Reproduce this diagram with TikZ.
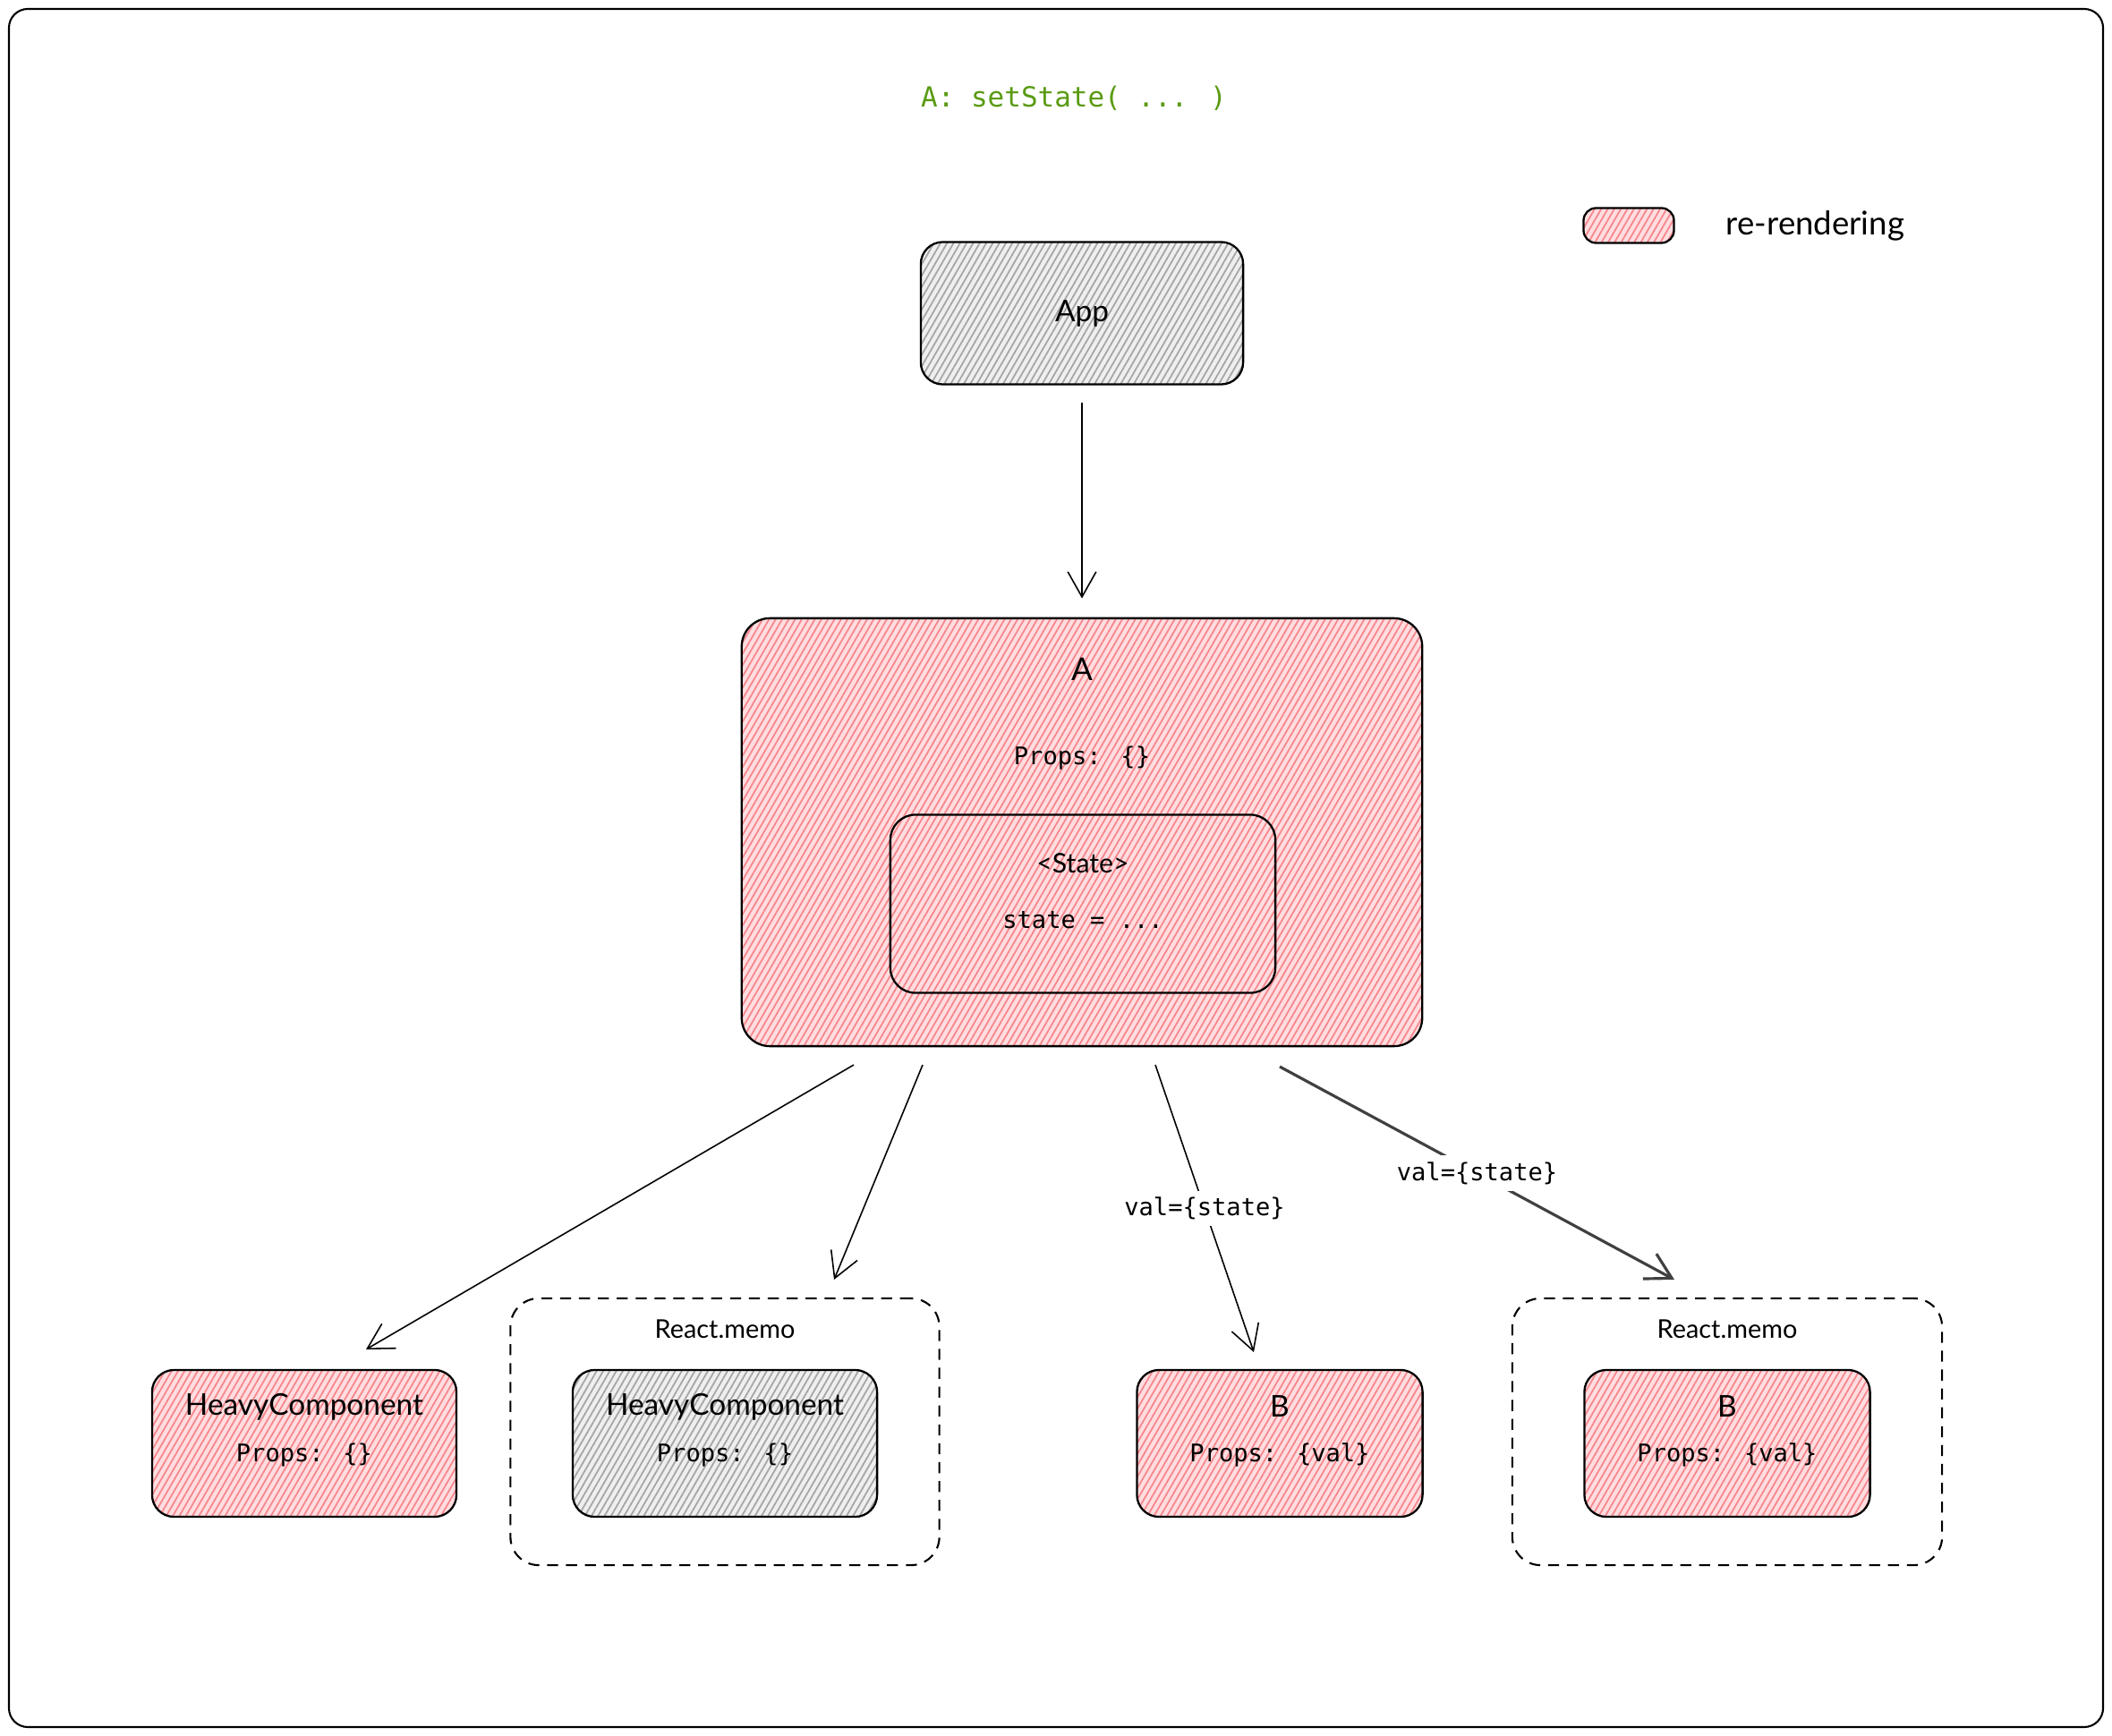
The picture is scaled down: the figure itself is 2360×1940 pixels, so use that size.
\documentclass[tikz,border=0pt]{standalone}
\usepackage{fontspec}
\setmainfont{Lato}
\newfontfamily\codefont{DejaVu Sans Mono}
\usetikzlibrary{arrows.meta,patterns.meta,positioning,calc}
\definecolor{redfill}{HTML}{FFDDE0}
\definecolor{redhatch}{HTML}{F5868C}
\definecolor{greyfill}{HTML}{EFEFEF}
\definecolor{greyhatch}{HTML}{A5A5A5}
\definecolor{titlegreen}{HTML}{5A9A12}

\begin{document}
\begin{tikzpicture}[x=0.01cm, y=-0.01cm, >={Straight Barb[length=8pt,width=9pt]}, line width=0.45pt]
\tikzstyle{box}=[draw=black,line width=0.65pt,rounded corners=7pt,inner sep=0pt]
\tikzstyle{redbox}=[box,preaction={fill=redfill},pattern={Lines[angle=60,distance=1.8pt,line width=0.5pt]},pattern color=redhatch]
\tikzstyle{greybox}=[box,preaction={fill=greyfill},pattern={Lines[angle=60,distance=1.8pt,line width=0.5pt]},pattern color=greyhatch]
\tikzstyle{memobox}=[draw=black,line width=0.6pt,dash pattern=on 3.5pt off 2.5pt,rounded corners=9pt,inner sep=0pt]
\tikzstyle{hand}=[font=\fontsize{9.5}{11}\selectfont]
\tikzstyle{codetxt}=[font=\codefont\fontsize{7.7}{9}\selectfont]
\tikzstyle{lbl}=[codetxt,fill=white,inner sep=2pt]

\useasboundingbox (0,0) rectangle (2360,1940);
\draw[line width=0.6pt,rounded corners=6pt] (10,10) rectangle (2350,1930);

\node[font=\codefont\fontsize{8.8}{10}\selectfont,text=titlegreen] (title) at (1200,110) {A: setState( ... )};

% legend
\node[redbox,rounded corners=4pt,minimum width=1.01cm,minimum height=0.39cm] (key) at (1820,252) {};
\node[hand,font=\fontsize{10.4}{12}\selectfont,right=0.45cm of key] (keytxt) {re-rendering};

% tree
\node[greybox,hand,minimum width=3.6cm,minimum height=1.59cm] (app) at (1209,350) {App};
\node[redbox,rounded corners=9pt,minimum width=7.6cm,minimum height=4.78cm] (a) at (1209,930) {};
\node[hand,font=\fontsize{10}{12}\selectfont] (aname) at (1209,748) {A};
\node[codetxt] (aprops) at (1209,847) {Props: \{\}};
\node[redbox,rounded corners=8pt,minimum width=4.3cm,minimum height=1.99cm] (st) at (1210,1010) {};
\node[hand,font=\fontsize{8.6}{10}\selectfont] (stname) at (1210,965) {<State>};
\node[codetxt] (stval) at (1210,1028) {state = ...};

\node[redbox,minimum width=3.4cm,minimum height=1.64cm] (hc1) at (340,1613) {};
\node[memobox,minimum width=4.79cm,minimum height=2.98cm] (memo1) at (810,1600) {};
\node[greybox,minimum width=3.4cm,minimum height=1.64cm] (hc2) at (810,1613) {};
\node[redbox,minimum width=3.19cm,minimum height=1.64cm] (b1) at (1430,1613) {};
\node[memobox,minimum width=4.8cm,minimum height=2.98cm] (memo2) at (1930,1600) {};
\node[redbox,minimum width=3.19cm,minimum height=1.64cm] (b2) at (1930,1613) {};

\foreach \n/\t in {hc1/HeavyComponent,hc2/HeavyComponent,b1/B,b2/B}
  \node[hand] (\n-name) at ($(\n.north)+(0,42)$) {\t};
\foreach \n/\t in {hc1/\{\},hc2/\{\},b1/\{val\},b2/\{val\}}
  \node[codetxt] (\n-props) at ($(\n.north)+(0,96)$) {Props: \t};
\node[hand,font=\fontsize{8.2}{10}\selectfont] (memo1-name) at (810,1485) {React.memo};
\node[hand,font=\fontsize{8.2}{10}\selectfont] (memo2-name) at (1930,1485) {React.memo};

% free ends of the connectors
\coordinate (out1) at (954,1190);  \coordinate (in1) at (409,1508);
\coordinate (out2) at (1031,1190); \coordinate (in2) at (932,1430);
\coordinate (out3) at (1291,1190); \coordinate (in3) at (1401,1511);
\coordinate (out4) at (1430,1192); \coordinate (in4) at (1871,1430);

\draw[->,shorten <=0.19cm,shorten >=0.21cm] (app) -- (a);
\draw[->] (out1) -- (in1);
\draw[->] (out2) -- (in2);
\draw[->] (out3) -- node[lbl] {val=\{state\}} (in3);
\draw[->,line width=0.9pt,draw=black!75] (out4) -- node[lbl] {val=\{state\}} (in4);
\end{tikzpicture}
\end{document}
